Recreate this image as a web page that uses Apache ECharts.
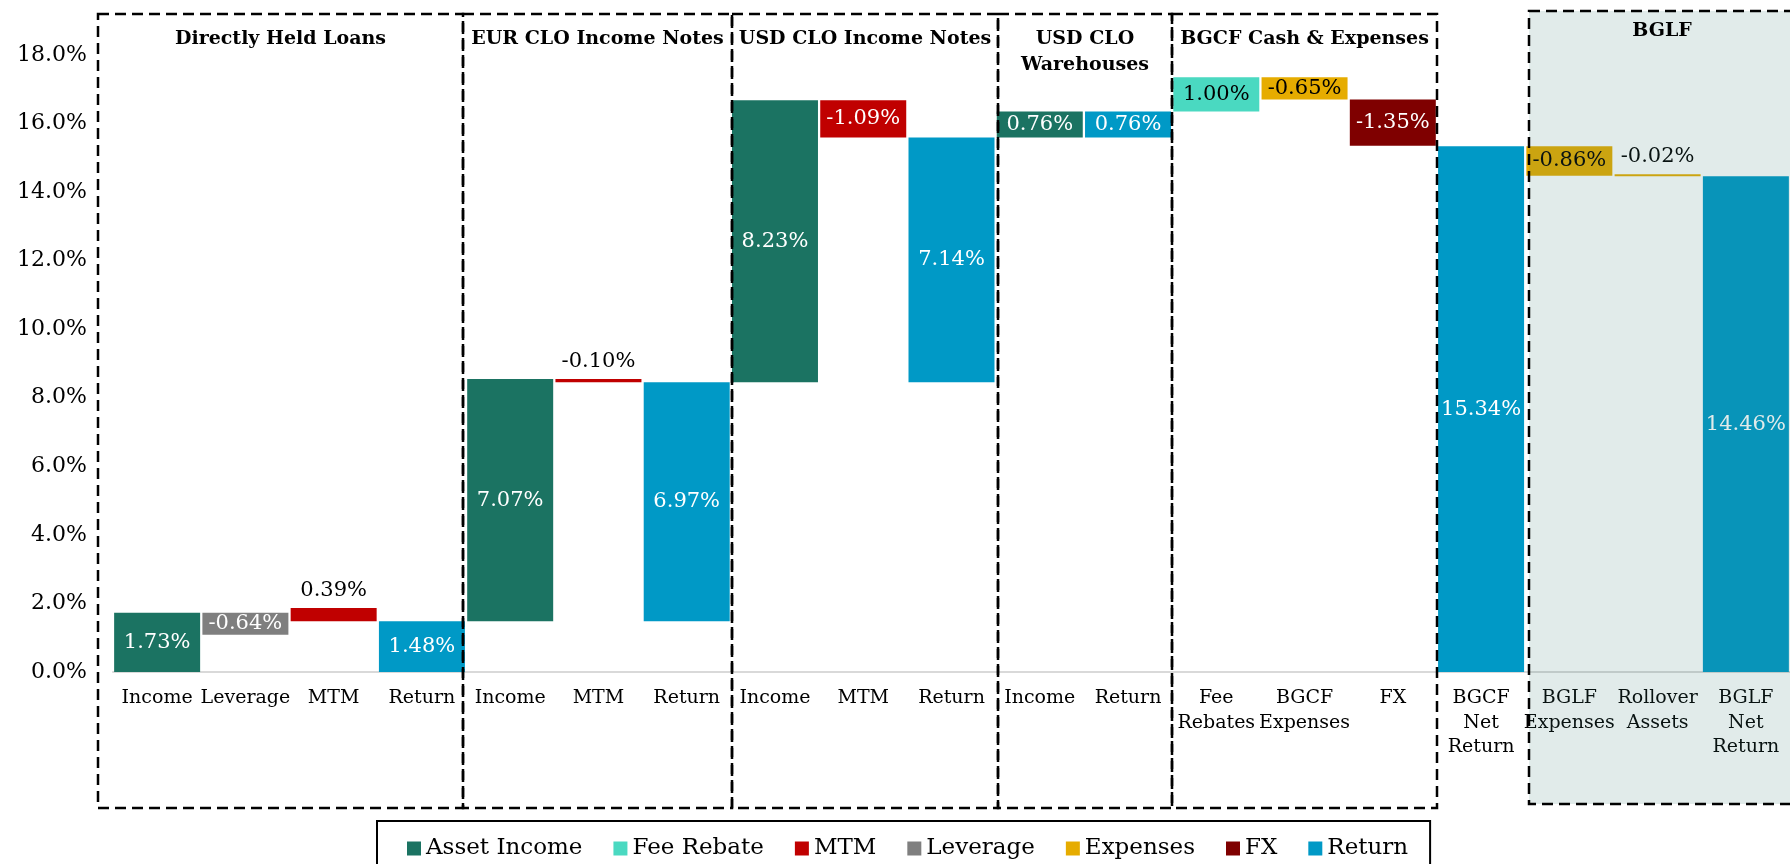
<!DOCTYPE html>
<html>
<head>
<meta charset="utf-8">
<script src="https://cdn.jsdelivr.net/npm/echarts@6.0.0/dist/echarts.min.js"></script>
<style>
  html, body { margin: 0; padding: 0; background: #fff; }
  #chart { width: 1790px; height: 864px; }
</style>
</head>
<body>
<div id="chart"></div>
<script>
// categories along the x axis
const categories = ['Income', 'Leverage', 'MTM', 'Return',
  'Income', 'MTM', 'Return',
  'Income', 'MTM', 'Return',
  'Income', 'Return',
  'Fee\nRebates', 'BGCF\nExpenses', 'FX',
  'BGCF\nNet\nReturn',
  'BGLF\nExpenses', 'Rollover\nAssets', 'BGLF\nNet\nReturn']
// signed value printed on each bar (%)
const barValues = [1.73, -0.64, 0.39, 1.48,
  7.07, -0.10, 6.97,
  8.23, -1.09, 7.14,
  0.76, 0.76,
  1.00, -0.65, -1.35,
  15.34,
  -0.86, -0.02, 14.46]
// bottom of each floating bar (%)
const barBottoms = [0, 1.09, 1.48, 0,
  1.48, 8.45, 1.48,
  8.45, 15.59, 8.45,
  15.59, 15.59,
  16.35, 16.70, 15.35,
  0,
  14.48, 14.46, 0]
const barTypes = ['Asset Income', 'Leverage', 'MTM', 'Return',
  'Asset Income', 'MTM', 'Return',
  'Asset Income', 'MTM', 'Return',
  'Asset Income', 'Return',
  'Fee Rebate', 'Expenses', 'FX',
  'Return',
  'Expenses', 'Expenses', 'Return']
const legendNames = ['Asset Income', 'Fee Rebate', 'MTM', 'Leverage', 'Expenses', 'FX', 'Return']
const groupTitles = ['Directly Held Loans', 'EUR CLO Income Notes', 'USD CLO Income Notes',
  'USD CLO\nWarehouses', 'BGCF Cash & Expenses', 'BGLF']
const yMin = 0, yMax = 18, yStep = 2

// styling
const colors = {
  'Asset Income': '#1B7362',
  'Fee Rebate': '#4AD9C1',
  'MTM': '#C00000',
  'Leverage': '#7F7F7F',
  'Expenses': '#E6AC00',
  'FX': '#7F0000',
  'Return': '#0099C6'
}
const darkLabel = [2, 5, 12, 13, 16, 17]
const labelOnTop = [2, 5, 17]
const FONT = '"DejaVu Serif", Georgia, serif'

const series = [{
  name: 'base',
  type: 'bar',
  stack: 'w',
  barWidth: 86,
  silent: true,
  itemStyle: {color: 'transparent'},
  data: barBottoms
}]
legendNames.forEach(t => {
  series.push({
    name: t,
    type: 'bar',
    stack: 'w',
    barWidth: 86,
    barMinHeight: 2,
    itemStyle: {color: colors[t]},
    data: barValues.map((v, i) => {
      if (barTypes[i] !== t) return '-'
      return {
        value: Math.abs(v),
        label: {
          show: true,
          position: labelOnTop.includes(i) ? 'top' : 'inside',
          distance: 7,
          color: darkLabel.includes(i) ? '#000' : '#fff',
          fontFamily: FONT,
          fontSize: 21,
          formatter: () => v.toFixed(2) + '%'
        }
      }
    })
  })
})

// dashed group boxes [x1, x2]
const boxes = [[98, 463], [463, 732], [732, 998], [998, 1172], [1172, 1437]]
const graphics = []
boxes.forEach((b, i) => {
  graphics.push({
    type: 'rect', z: 50,
    shape: {x: b[0], y: 14, width: b[1] - b[0], height: 794},
    style: {fill: 'none', stroke: '#000', lineWidth: 2.5, lineDash: [11, 6]}
  })
  graphics.push({
    type: 'text', z: 51,
    x: (b[0] + b[1]) / 2, y: 26,
    style: {
      text: groupTitles[i], fontFamily: FONT, fontWeight: 'bold', fontSize: 19,
      fill: '#000', align: 'center', verticalAlign: 'top', lineHeight: 26
    }
  })
})
graphics.push({
  type: 'rect', z: 50,
  shape: {x: 1529, y: 11, width: 270, height: 793},
  style: {fill: 'rgba(55,122,115,0.15)', stroke: '#000', lineWidth: 2.5, lineDash: [11, 6]}
})
graphics.push({
  type: 'text', z: 51,
  x: 1662, y: 22,
  style: {
    text: groupTitles[5], fontFamily: FONT, fontWeight: 'bold', fontSize: 19,
    fill: '#000', align: 'center', verticalAlign: 'top'
  }
})

const option = {
  animation: false,
  grid: {left: 113, right: 0, top: 55, bottom: 192, containLabel: false, outerBoundsMode: 'none'},
  legend: {
    data: legendNames,
    selectedMode: false,
    left: 377, top: 821,
    icon: 'rect',
    itemWidth: 14, itemHeight: 14, itemGap: 31,
    padding: [16, 22, 20, 30],
    borderColor: '#000', borderWidth: 2,
    textStyle: {fontFamily: FONT, fontSize: 23, color: '#000'}
  },
  xAxis: {
    type: 'category',
    data: categories,
    axisLine: {lineStyle: {color: '#D9D9D9', width: 2}},
    axisTick: {show: false},
    axisLabel: {
      interval: 0, margin: 14,
      fontFamily: FONT, fontSize: 19, color: '#000', lineHeight: 24.5
    }
  },
  yAxis: {
    type: 'value',
    min: yMin, max: yMax, interval: yStep,
    axisLine: {show: false},
    axisTick: {show: false},
    splitLine: {show: false},
    axisLabel: {
      margin: 26,
      fontFamily: FONT, fontSize: 22, color: '#000',
      formatter: v => v.toFixed(1) + '%'
    }
  },
  graphic: graphics,
  series: series
}

const myChart = echarts.init(document.getElementById('chart'))
myChart.setOption(option)
</script>
</body>
</html>
